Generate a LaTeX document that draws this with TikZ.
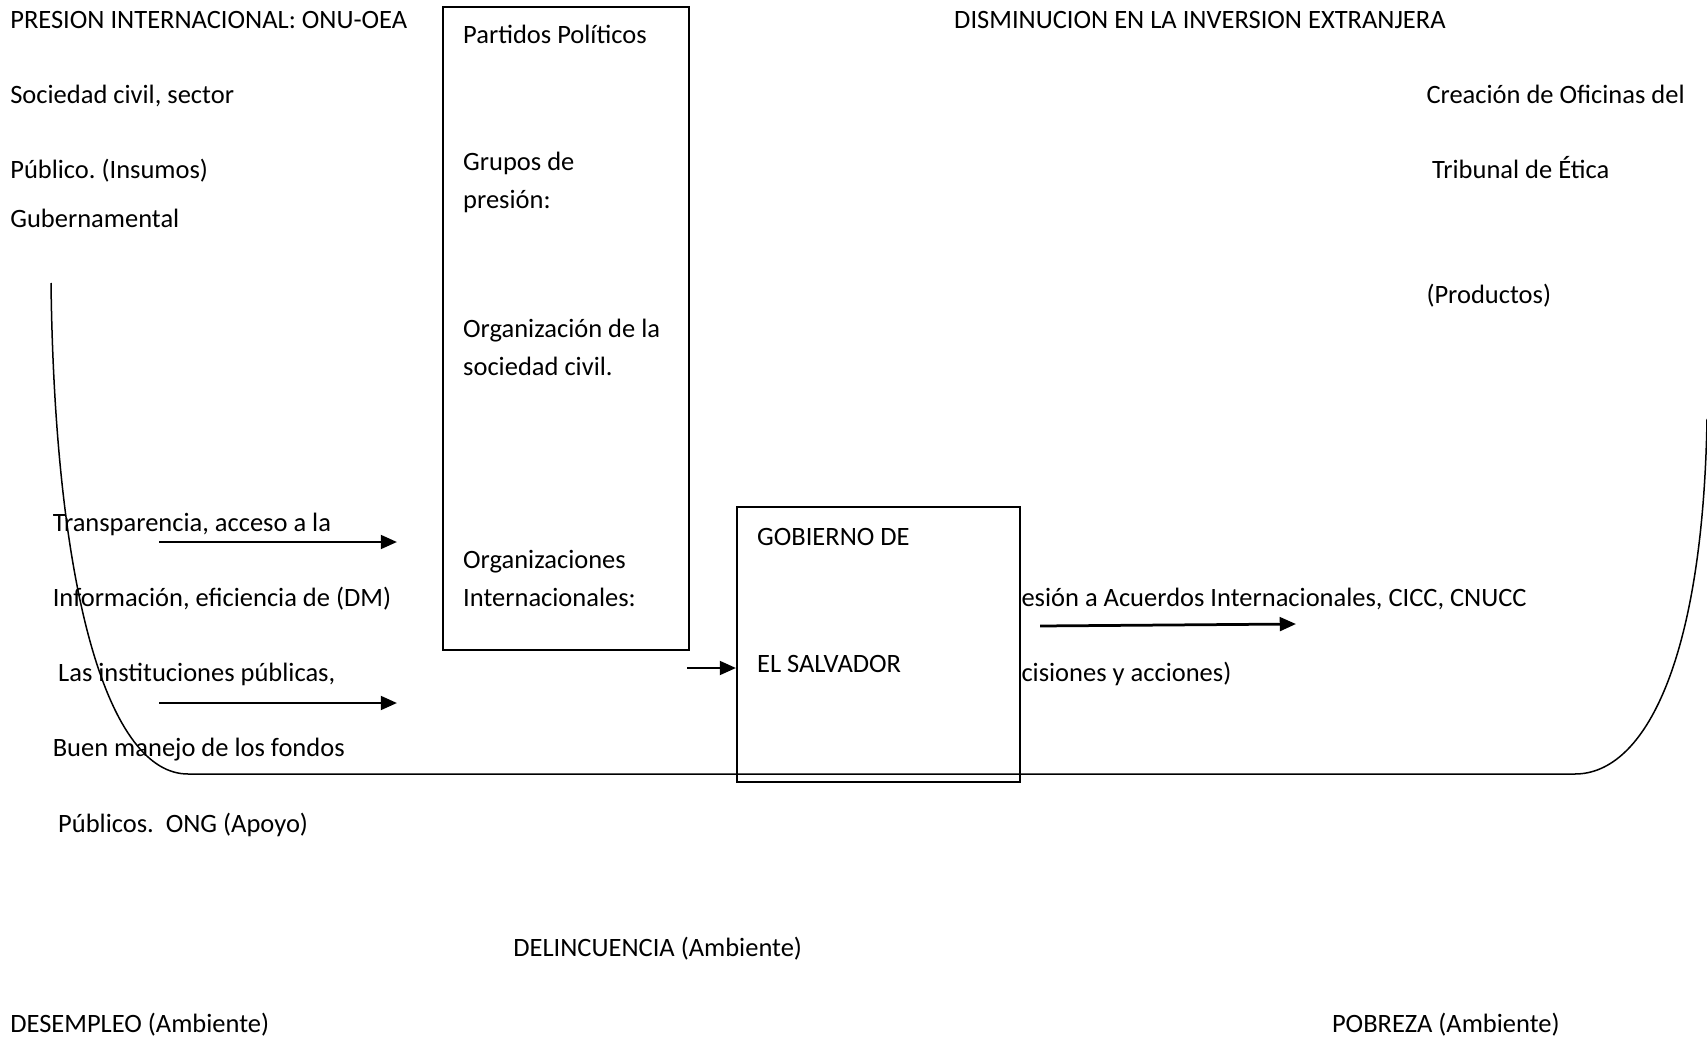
\documentclass[tikz,border=0pt]{standalone}
\usepackage{fontspec}
\setmainfont{Carlito}
\usetikzlibrary{arrows.meta}
\begin{document}
\frenchspacing
\begin{tikzpicture}[x=0.4pt,y=-0.4pt, font=\fontsize{10.6}{13}\selectfont,
 lbl/.style={anchor=base west, inner sep=0pt},
 arr/.style={line width=1.1pt, -{Triangle[length=6.5pt,width=5.5pt]}},
 boxst/.style={draw, line width=0.7pt, fill=white, anchor=north west, inner sep=0pt},
 curve/.style={line width=0.6pt}]
\useasboundingbox[fill=white] (0,0) rectangle (1707,1039);
% boxes
\node[boxst, minimum width=98.4pt, minimum height=257pt] (box1) at (442,6.5) {};
\node[boxst, minimum width=113.2pt, minimum height=110pt] (box2) at (736,506) {};
% left texts
\node[lbl] (t1) at (9.8,29) {PRESION INTERNACIONAL: ONU-OEA};
\node[lbl] (t2) at (9.8,104) {Sociedad civil, sector};
\node[lbl] (t3) at (9.8,179) {Público. (Insumos)};
\node[lbl] (t4) at (9.8,228) {Gubernamental};
% box1 texts
\node[lbl] (p1) at (462.7,44) {Partidos Políticos};
\node[lbl] (p2) at (462.7,171) {Grupos de};
\node[lbl] (p3) at (462.7,209) {presión:};
\node[lbl] (p4) at (462.7,337) {Organización de la};
\node[lbl] (p5) at (462.7,375) {sociedad civil.};
\node[lbl] (p6) at (462.7,568) {Organizaciones};
\node[lbl] (p7) at (462.7,606) {Internacionales:};
% right texts
\node[lbl] (d1) at (953.7,29) {DISMINUCION EN LA INVERSION EXTRANJERA};
\node[lbl] (r1) at (1426,104) {Creación de Oficinas del};
\node[lbl] (r2) at (1431.6,179) {Tribunal de Ética};
\node[lbl] (r3) at (1426,303) {(Productos)};
% lower-left texts
\node[lbl] (l1) at (52.3,531) {Transparencia, acceso a la};
\node[lbl] (l2) at (52.3,606) {Información, eficiencia de (DM)};
\node[lbl] (l3) at (57.7,681) {Las instituciones públicas,};
\node[lbl] (l4) at (52.3,756) {Buen manejo de los fondos};
\node[lbl] (l5) at (57.7,832) {Públicos.\ \ ONG (Apoyo)};
% gobierno
\node[lbl] (g1) at (756.6,545) {GOBIERNO DE};
\node[lbl] (g2) at (756.6,672) {EL SALVADOR};
\node[lbl] (o1) at (1021,606) {esión a Acuerdos Internacionales, CICC, CNUCC};
\node[lbl] (o2) at (1021,681) {cisiones y acciones)};
% bottom
\node[lbl] (b1) at (512.8,956) {DELINCUENCIA (Ambiente)};
\node[lbl] (b2) at (9.8,1032) {DESEMPLEO (Ambiente)};
\node[lbl] (b3) at (1331.5,1032) {POBREZA (Ambiente)};
% curve
\coordinate (cl) at (51,283);
\coordinate (cb1) at (188,774);
\coordinate (cb2) at (1575,774);
\coordinate (cr) at (1707,419);
\draw[curve] (cl) .. controls (55,600) and (110,774) .. (cb1) -- (cb2) .. controls (1645,774) and (1703,660) .. (cr);
% arrows
\coordinate (a1s) at (159,542); \coordinate (a1e) at (397,542);
\coordinate (a2s) at (159,703); \coordinate (a2e) at (397,703);
\coordinate (a3s) at (687,668);
\coordinate (a4s) at (1040,626); \coordinate (a4e) at (1296,624);
\draw[arr] (a1s) -- (a1e);
\draw[arr] (a2s) -- (a2e);
\draw[arr] (a3s) -- (box2.west |- a3s);
\draw[arr] (a4s) -- (a4e);
\end{tikzpicture}
\end{document}
